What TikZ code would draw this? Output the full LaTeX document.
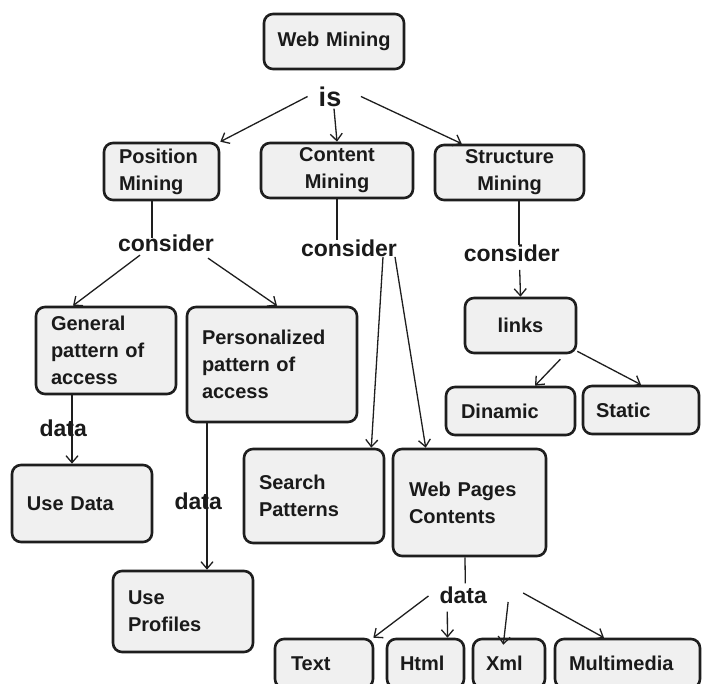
\documentclass[tikz,border=0pt]{standalone}
\usepackage{fontspec}
\setmainfont{Liberation Sans}
\usetikzlibrary{arrows.meta}
\definecolor{boxfill}{HTML}{F0F0F0}
\definecolor{lc}{HTML}{1E1E1E}
\definecolor{tc}{HTML}{1A1A1A}
\newcommand{\bxfont}{\bfseries\fontsize{20}{27}\selectfont}
\newcommand{\lbfont}{\bfseries\fontsize{23}{27}\selectfont}
\newcommand{\isfont}{\bfseries\fontsize{27}{30}\selectfont}
\tikzset{
  box/.style={draw=lc, line width=2.6pt, fill=boxfill, rounded corners=9pt,
    font=\bxfont, text=tc, inner ysep=0pt, inner xsep=15pt, align=left},
  cbox/.style={box, inner xsep=10pt, align=center},
  lbl/.style={font=\lbfont, text=tc, inner sep=0pt},
  conn/.style={draw=lc, line width=1.3pt},
  arr/.style={conn, -{Straight Barb[length=7pt,width=12pt,line width=1.3pt]}},
}
\begin{document}
\begin{tikzpicture}[x=1pt,y=-1pt]
\useasboundingbox (0,0) rectangle (707,684);
\fill[white] (0,0) rectangle (707,684);
\clip (0,0) rectangle (707,684);

% boxes
\node[cbox, text width=120pt, minimum height=55pt] (web) at (334,41.5) {Web Mining};
\node[box, text width=85pt, minimum height=57pt] (pos) at (161.5,171.5) {Position\\Mining};
\node[cbox, text width=132pt, minimum height=55pt] (con) at (337,170.5) {Content\\Mining};
\node[cbox, text width=129pt, minimum height=55pt] (str) at (509.5,172.5) {Structure\\Mining};
\node[box, text width=110pt, minimum height=87pt] (gen) at (106,350.5) {General\\pattern of\\access};
\node[box, text width=140pt, minimum height=115pt] (per) at (272,364.5) {Personalized\\pattern of\\access};
\node[cbox, text width=91pt, minimum height=55pt] (links) at (520.5,325.5) {links};
\node[box, text width=99pt, minimum height=48pt] (dyn) at (510.5,411) {Dinamic};
\node[box, inner xsep=13pt, text width=90pt, minimum height=48pt] (sta) at (641,410) {Static};
\node[box, text width=110pt, minimum height=77pt] (usedata) at (82,503.5) {Use Data};
\node[box, text width=110pt, minimum height=94pt] (search) at (314,496) {Search\\Patterns};
\node[box, inner xsep=16pt, text width=121pt, minimum height=107pt] (wpc) at (469.5,502.5) {Web Pages\\Contents};
\node[box, text width=110pt, minimum height=81pt] (useprof) at (183,611.5) {Use\\Profiles};
\node[box, inner xsep=16pt, text width=66pt, minimum height=49pt] (text) at (324,663.5) {Text};
\node[box, inner xsep=13pt, text width=51pt, minimum height=49pt] (html) at (425.5,663.5) {Html};
\node[box, inner xsep=13pt, text width=46pt, minimum height=49pt] (xml) at (509,663.5) {Xml};
\node[box, inner xsep=14pt, text width=117pt, minimum height=49pt] (mm) at (627.5,663.5) {Multimedia};

% labels
\node[lbl, font=\isfont] (is) at (330,96.5) {is};
\node[lbl] (cL) at (166,243.5) {consider};
\node[lbl] (cM) at (349,248.3) {consider};
\node[lbl] (cR) at (511.7,253.3) {consider};
\node[lbl] (dL) at (63.3,428.3) {data};
\node[lbl] (dM) at (198.3,501.7) {data};
\node[lbl] (dB) at (463.3,595) {data};

% connectors
\draw[arr] ([xshift=-11pt]is.west) -- (pos.north east);
\draw[arr] ([xshift=4pt,yshift=-2pt]is.south) -- (con.north);
\draw[arr] ([xshift=19.5pt]is.east) -- ([xshift=28pt]str.north west);

\draw[conn] ([xshift=-9.5pt]pos.south) -- ([xshift=-14pt,yshift=-3pt]cL.north);
\draw[conn] (con.south) -- (con.south |- cM.north);
\draw[conn] ([xshift=9.5pt]str.south) -- ([xshift=7.3pt]cR.north);

\draw[arr] ([xshift=-26pt,yshift=-3pt]cL.south) -- ([xshift=-33pt]gen.north);
\draw[arr] ([xshift=42pt,yshift=-6pt]cL.south) -- ([xshift=5pt]per.north);
\draw[arr] ([xshift=34pt]cM.south) -- ([xshift=-14pt]search.north east);
\draw[arr] ([xshift=46pt]cM.south) -- ([xshift=34pt]wpc.north west);
\draw[arr] ([xshift=8pt,yshift=-8pt]cR.south) -- (links.north);

\draw[arr] ([xshift=-17pt,yshift=-5pt]links.south east) -- ([xshift=24.5pt]dyn.north);
\draw[arr] ([yshift=3pt]links.south east) -- (sta.north);

\draw[arr] ([xshift=-34pt]gen.south) -- ([xshift=-10pt]usedata.north);
\draw[arr] ([xshift=-65pt]per.south) -- ([xshift=24pt]useprof.north);

\draw[conn] ([xshift=-4.5pt]wpc.south) -- ([xshift=2pt,yshift=3pt]dB.north);
\draw[arr] ([xshift=-11pt,yshift=-1pt]dB.west) -- ([xshift=-1pt]text.north east);
\draw[arr] ([xshift=-16pt,yshift=-8pt]dB.south) -- ([xshift=22pt]html.north);
\draw[arr] ([xshift=21pt,yshift=-7pt]dB.east) -- ([xshift=-5.7pt,yshift=-7pt]xml.north);
\draw[arr] ([xshift=36pt,yshift=2pt]dB.east) -- ([xshift=-23.5pt]mm.north);
\end{tikzpicture}
\end{document}
